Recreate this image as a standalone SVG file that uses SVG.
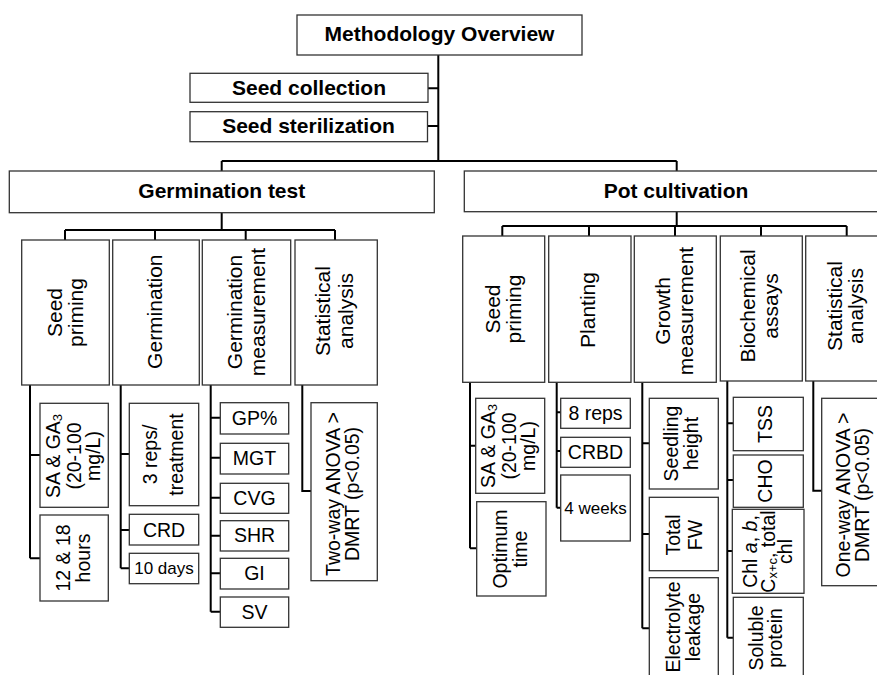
<svg xmlns="http://www.w3.org/2000/svg" width="877" height="675" viewBox="0 0 877 675">
<style>
.box{fill:#fff;stroke:#333;stroke-width:1.3}
.ln{fill:none;stroke:#000;stroke-width:2}
text{font-family:"Liberation Sans",Arial,sans-serif;fill:#000;text-anchor:middle}
.b{font-weight:bold;font-size:21px}
.t{font-size:21px}
.s{font-size:19.5px}
.xs{font-size:17px}
.sub{font-size:13px}
</style>
<rect width="877" height="675" fill="#fff"/>
<g id="connectors">
<path class="ln" d="M438.3 55V161M428 88.3H438.3M427.5 126H438.3M221.7 161H676.7M221.7 161V171M676.7 161V171"/>
<path class="ln" d="M221.7 212.7V230M65 230H335M65 230V240M155 230V240M245.7 230V240M335 230V240"/>
<path class="ln" d="M30 385V558.3M30 455H40M30 558.3H40"/>
<path class="ln" d="M120.7 385V568.3M120.7 454H129.3M120.7 530H129.3M120.7 568.3H129.3"/>
<path class="ln" d="M210.7 385V611.7M210.7 417.7H220.3M210.7 457.7H220.3M210.7 497.7H220.3M210.7 535.7H220.3M210.7 573.3H220.3M210.7 611.7H220.3"/>
<path class="ln" d="M302.3 385V491H311"/>
<path class="ln" d="M676.7 211.7V226M502.3 226H846.7M502.3 226V236M589 226V236M675 226V236M761 226V236M846.7 226V236"/>
<path class="ln" d="M470 382.3V548.3M470 445.7H475.7M470 548.3H476.7"/>
<path class="ln" d="M556.7 382.3V507.7M556.7 412.3H560.7M556.7 451H560.7M556.7 507.7H560.7"/>
<path class="ln" d="M642.3 382.3V628.3M642.3 443.3H649.3M642.3 534H649.3M642.3 628.3H649.3"/>
<path class="ln" d="M727.3 381V637.7M727.3 423.3H733.3M727.3 480H733.3M727.3 551H733.3M727.3 637.7H733.3"/>
<path class="ln" d="M813.3 381V490.7H821.7"/>
</g>
<g id="methodology">
<rect class="box" x="297" y="15" width="285" height="40"/>
<text class="b" x="439.5" y="40.7">Methodology Overview</text>
</g>
<g id="seed-collection">
<rect class="box" x="190" y="73.3" width="238" height="29"/>
<text class="b" x="309" y="95">Seed collection</text>
</g>
<g id="seed-sterilization">
<rect class="box" x="190" y="111.7" width="237.5" height="30"/>
<text class="b" x="308.5" y="133.3">Seed sterilization</text>
</g>
<g id="germination-test">
<rect class="box" x="9.3" y="171" width="425" height="41.7"/>
<text class="b" x="221.8" y="197.7" font-size="20">Germination test</text>
</g>
<g id="pot-cultivation">
<rect class="box" x="464.3" y="171" width="430" height="40.7"/>
<text class="b" x="676" y="197.7">Pot cultivation</text>
</g>
<g id="g-seed-priming">
<rect class="box" x="21.7" y="240" width="87.6" height="145"/>
<text class="t" transform="translate(61.7,312.5) rotate(-90)"><tspan x="0" y="0">Seed</tspan><tspan x="0" y="21.6">priming</tspan></text>
</g>
<g id="g-germination">
<rect class="box" x="112.7" y="240" width="86.6" height="145"/>
<text class="t" transform="translate(161.7,311.7) rotate(-90)">Germination</text>
</g>
<g id="g-measurement">
<rect class="box" x="202.3" y="240" width="88.4" height="145"/>
<text class="t" transform="translate(241.7,312) rotate(-90)"><tspan x="0" y="0">Germination</tspan><tspan x="0" y="23.3">measurement</tspan></text>
</g>
<g id="g-statistical">
<rect class="box" x="295" y="240" width="82.3" height="145"/>
<text class="t" transform="translate(330,311) rotate(-90)"><tspan x="0" y="0">Statistical</tspan><tspan x="0" y="23.3">analysis</tspan></text>
</g>
<g id="g-sa-ga">
<rect class="box" x="40" y="403.3" width="68.3" height="104"/>
<text class="s" transform="translate(60,456) rotate(-90)"><tspan x="0" y="0">SA &amp; GA<tspan class="sub" dy="2">3</tspan></tspan><tspan x="0" y="21">(20-100</tspan><tspan x="0" y="40">mg/L)</tspan></text>
</g>
<g id="g-hours">
<rect class="box" x="40" y="515" width="68.3" height="86"/>
<text class="s" transform="translate(70,558) rotate(-90)"><tspan x="0" y="0">12 &amp; 18</tspan><tspan x="0" y="20">hours</tspan></text>
</g>
<g id="g-reps">
<rect class="box" x="129.3" y="403.3" width="69.4" height="102.4"/>
<text class="s" transform="translate(156.7,454.5) rotate(-90)"><tspan x="0" y="0">3 reps/</tspan><tspan x="0" y="26.3">treatment</tspan></text>
</g>
<g id="g-crd">
<rect class="box" x="129.3" y="514.3" width="69.4" height="30.7"/>
<text class="s" x="164" y="536.5">CRD</text>
</g>
<g id="g-days">
<rect class="box" x="129.3" y="553.3" width="69.4" height="30.4"/>
<text class="xs" x="164" y="574">10 days</text>
</g>
<g id="g-gp">
<rect class="box" x="220.3" y="402.7" width="68.4" height="31.3"/>
<text class="s" x="254.5" y="424.5">GP%</text>
</g>
<g id="g-mgt">
<rect class="box" x="220.3" y="443.3" width="68.4" height="30.7"/>
<text class="s" x="254.5" y="464.5">MGT</text>
</g>
<g id="g-cvg">
<rect class="box" x="220.3" y="483.3" width="68.4" height="30"/>
<text class="s" x="254.5" y="504.5">CVG</text>
</g>
<g id="g-shr">
<rect class="box" x="220.3" y="520.7" width="68.4" height="30.3"/>
<text class="s" x="254.5" y="542">SHR</text>
</g>
<g id="g-gi">
<rect class="box" x="220.3" y="558.3" width="68.4" height="30.7"/>
<text class="s" x="254.5" y="580">GI</text>
</g>
<g id="g-sv">
<rect class="box" x="220.3" y="597" width="68.4" height="30.3"/>
<text class="s" x="254.5" y="618.5">SV</text>
</g>
<g id="g-anova">
<rect class="box" x="311" y="402.7" width="66.3" height="178"/>
<text class="s" font-size="19" transform="translate(340,494) rotate(-90)"><tspan x="0" y="0">Two-way ANOVA &gt;</tspan><tspan x="0" y="19.3">DMRT (p&lt;0.05)</tspan></text>
</g>
<g id="p-seed-priming">
<rect class="box" x="462.7" y="236" width="82" height="146.3"/>
<text class="t" transform="translate(500,309) rotate(-90)"><tspan x="0" y="0">Seed</tspan><tspan x="0" y="21">priming</tspan></text>
</g>
<g id="p-planting">
<rect class="box" x="548.7" y="236" width="82.3" height="146.3"/>
<text class="t" transform="translate(595,310) rotate(-90)">Planting</text>
</g>
<g id="p-growth">
<rect class="box" x="634.3" y="236" width="82" height="146.3"/>
<text class="t" transform="translate(670,311) rotate(-90)"><tspan x="0" y="0">Growth</tspan><tspan x="0" y="22.5">measurement</tspan></text>
</g>
<g id="p-biochemical">
<rect class="box" x="720.3" y="236" width="82" height="145"/>
<text class="t" transform="translate(755,306) rotate(-90)"><tspan x="0" y="0">Biochemical</tspan><tspan x="0" y="23.3">assays</tspan></text>
</g>
<g id="p-statistical">
<rect class="box" x="805.7" y="236" width="82" height="145"/>
<text class="t" transform="translate(841.7,306) rotate(-90)"><tspan x="0" y="0">Statistical</tspan><tspan x="0" y="21.6">analysis</tspan></text>
</g>
<g id="p-sa-ga">
<rect class="box" x="475.7" y="398.3" width="69" height="95"/>
<text class="s" transform="translate(495,446) rotate(-90)"><tspan x="0" y="0">SA &amp; GA<tspan class="sub" dy="2">3</tspan></tspan><tspan x="0" y="21.3">(20-100</tspan><tspan x="0" y="40">mg/L)</tspan></text>
</g>
<g id="p-optimum">
<rect class="box" x="476.7" y="501.7" width="69.3" height="94.3"/>
<text class="s" transform="translate(506.7,549) rotate(-90)"><tspan x="0" y="0">Optimum</tspan><tspan x="0" y="20.6">time</tspan></text>
</g>
<g id="p-reps">
<rect class="box" x="560.7" y="398.3" width="69.6" height="30"/>
<text class="s" x="595.5" y="419.5">8 reps</text>
</g>
<g id="p-crbd">
<rect class="box" x="560.7" y="437.3" width="69.6" height="30"/>
<text class="s" x="595.5" y="458.5">CRBD</text>
</g>
<g id="p-weeks">
<rect class="box" x="560.7" y="475" width="69.6" height="66"/>
<text class="xs" x="595.5" y="513.5">4 weeks</text>
</g>
<g id="p-seedling">
<rect class="box" x="649.3" y="398.3" width="69" height="90.7"/>
<text class="s" transform="translate(678.3,443.5) rotate(-90)"><tspan x="0" y="0">Seedling</tspan><tspan x="0" y="20">height</tspan></text>
</g>
<g id="p-fw">
<rect class="box" x="649.3" y="497.3" width="69" height="73.4"/>
<text class="s" transform="translate(680,535) rotate(-90)"><tspan x="0" y="0">Total</tspan><tspan x="0" y="21.7">FW</tspan></text>
</g>
<g id="p-electrolyte">
<rect class="box" x="649.3" y="577.7" width="69" height="112"/>
<text class="s" transform="translate(680,627) rotate(-90)"><tspan x="0" y="0">Electrolyte</tspan><tspan x="0" y="20">leakage</tspan></text>
</g>
<g id="p-tss">
<rect class="box" x="733.3" y="397.3" width="70" height="53.4"/>
<text class="s" transform="translate(771.7,424) rotate(-90)">TSS</text>
</g>
<g id="p-cho">
<rect class="box" x="733.3" y="455" width="70" height="52.3"/>
<text class="s" transform="translate(771.7,481) rotate(-90)">CHO</text>
</g>
<g id="p-chl">
<rect class="box" x="732.3" y="509.3" width="71.7" height="84"/>
<text class="s" font-size="19" transform="translate(757.3,551.5) rotate(-90)"><tspan x="0" y="0">Chl <tspan font-style="italic">a</tspan>, <tspan font-style="italic">b</tspan>,</tspan><tspan x="0" y="17.7">C<tspan class="sub" dy="2">x+c</tspan><tspan dy="-2">, total</tspan></tspan><tspan x="0" y="34.4">chl</tspan></text>
</g>
<g id="p-protein">
<rect class="box" x="733.3" y="597.3" width="70" height="92"/>
<text class="s" transform="translate(763.3,638) rotate(-90)"><tspan x="0" y="0">Soluble</tspan><tspan x="0" y="18.7">protein</tspan></text>
</g>
<g id="p-anova">
<rect class="box" x="821.7" y="398.3" width="68" height="187.4"/>
<text class="s" font-size="19" transform="translate(850,495) rotate(-90)"><tspan x="0" y="0">One-way ANOVA &gt;</tspan><tspan x="0" y="19.3">DMRT (p&lt;0.05)</tspan></text>
</g>
</svg>
